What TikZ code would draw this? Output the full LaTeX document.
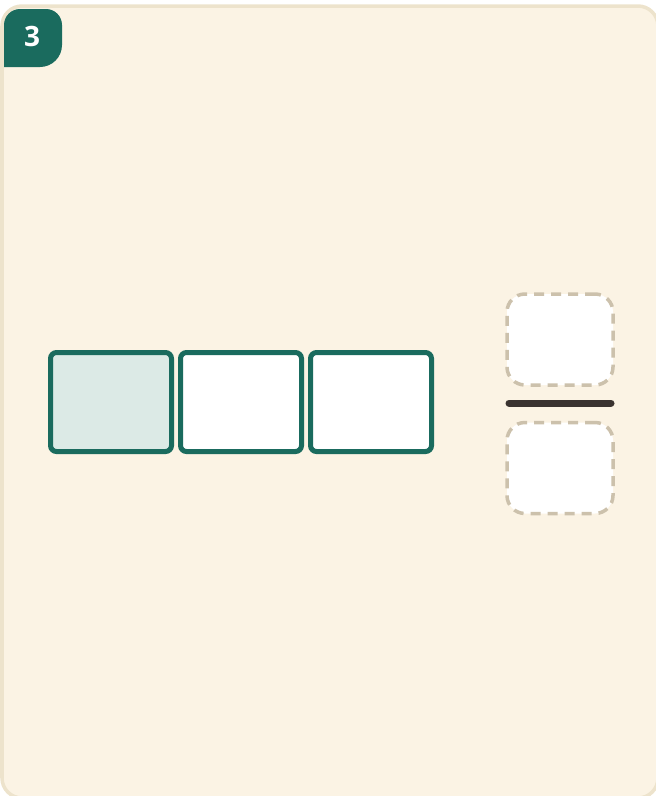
\documentclass[tikz,border=0pt]{standalone}
\usepackage{fontspec}
\setsansfont{Open Sans}
\usepackage{xcolor}
\usetikzlibrary{positioning}

\definecolor{cardfill}{HTML}{FBF3E4}
\definecolor{carddraw}{HTML}{EDE3CC}
\definecolor{teal}{HTML}{1A6B5E}
\definecolor{tealpale}{HTML}{DCEAE6}
\definecolor{dashgray}{HTML}{CCC1AC}
\definecolor{barbrown}{HTML}{3A3330}

\begin{document}
\begin{tikzpicture}[x=1pt, y=-1pt,
  %% style definitions
  card/.style   = {draw=carddraw, fill=cardfill, line width=3.5pt,
                   rounded corners=20pt},
  badge/.style  = {fill=teal},
  part/.style   = {draw=teal, line width=5pt, fill=white,
                   rounded corners=6pt, outer sep=0pt,
                   minimum width=121pt, minimum height=99pt},
  shaded/.style = {part, fill=tealpale},
  slot/.style   = {draw=dashgray, line width=3.5pt, fill=white, dashed,
                   dash pattern=on 10pt off 7pt,
                   rounded corners=18pt, outer sep=0pt,
                   minimum width=106pt, minimum height=91pt},
  bar/.style    = {draw=barbrown, line width=7pt, line cap=round},
]
\useasboundingbox (0,0) rectangle (656,796);

%% ── Card and number badge ───────────────────────────────────────────────────
\draw[card] (2,6) rectangle (658,798);
\fill[badge] (4,62) -- (4,24) [rounded corners=16pt] -- (4,9)
  -- (62,9) [rounded corners=22pt] -- (62,67) [sharp corners] -- (4,67) -- cycle;
\node[font=\sffamily\bfseries\fontsize{28}{32}\selectfont, text=white]
  (num) at (32,36.5) {3};

%% ── Three equal parts ───────────────────────────────────────────────────────
\node[shaded] (p1) at (111,402) {};
\node[part, right=9pt of p1] (p2) {};
\node[part, right=9pt of p2] (p3) {};

%% ── Empty fraction ──────────────────────────────────────────────────────────
\node[slot] (numer) at (560,339.5) {};
\node[slot] (denom) at (560,468) {};
\coordinate (barL) at (509,403);
\coordinate (barR) at (611,403);
\draw[bar] (barL) -- (barR);

\end{tikzpicture}
\end{document}
